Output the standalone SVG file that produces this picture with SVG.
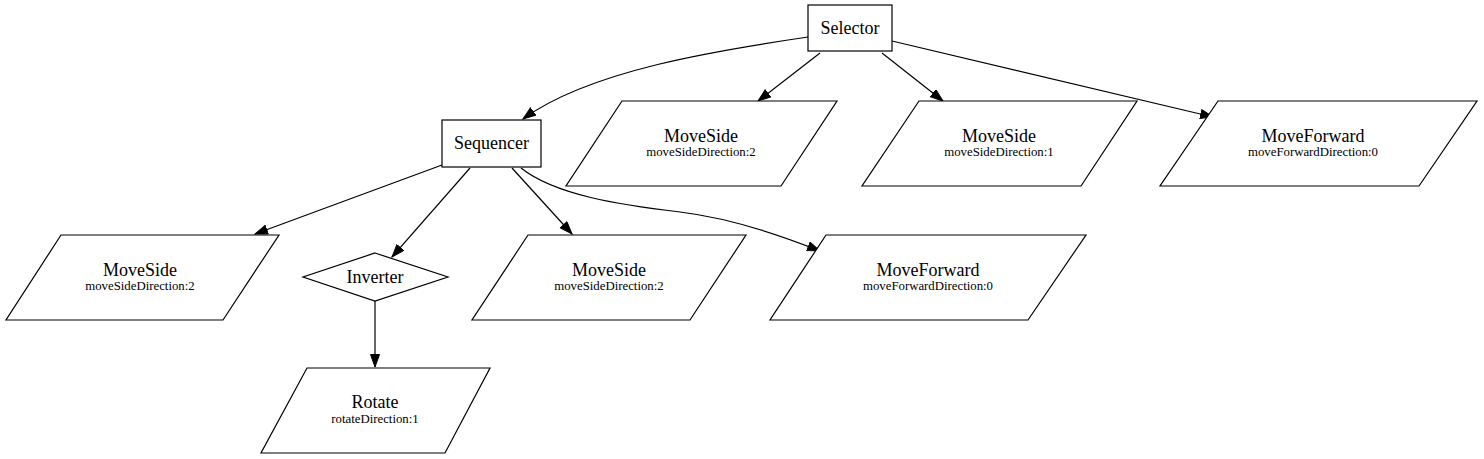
<svg xmlns="http://www.w3.org/2000/svg" width="1484" height="459" viewBox="0 0 1484 459">
<style>
.n{fill:#fff;stroke:#000;stroke-width:1.2}
.e{fill:none;stroke:#000;stroke-width:1.2;marker-end:url(#a)}
text{font-family:'Liberation Serif','Times New Roman',Times,serif;text-anchor:middle;fill:#000}
.t{font-size:18px}
.s{font-size:12.8px}
</style>
<defs>
<marker id="a" markerUnits="userSpaceOnUse" markerWidth="14" markerHeight="11" refX="13" refY="5" orient="auto">
<path d="M0.5,0.5 L13,5 L0.5,9.5 z" fill="#000" stroke="#000" stroke-width="1"/>
</marker>
</defs>
<rect width="1484" height="459" fill="#fff"/>
<g id="edges">
<path class="e" d="M808,37 C720,50 590,70 523,119"/>
<path class="e" d="M820,53 L758,101"/>
<path class="e" d="M882,53 L943,101"/>
<path class="e" d="M892,41 L1213,117"/>
<path class="e" d="M442,165 L255,234"/>
<path class="e" d="M470,168 L392,257"/>
<path class="e" d="M512,168 L572,234"/>
<path class="e" d="M521,168 C555,195 620,205 680,212 C730,218 780,235 820,251"/>
<path class="e" d="M375,301 L375,367"/>
</g>
<g id="selector">
<rect class="n" x="808" y="5" width="84" height="46"/>
<text class="t" x="850" y="34" font-family="Liberation Serif, serif">Selector</text>
</g>
<g id="sequencer">
<rect class="n" x="442" y="120" width="99" height="47"/>
<text class="t" x="491.5" y="149" font-family="Liberation Serif, serif">Sequencer</text>
</g>
<g id="moveside_top1">
<polygon class="n" points="622,101 837,101 781,186 566,186"/>
<text class="t" x="701" y="142" font-family="Liberation Serif, serif">MoveSide</text>
<text class="s" x="701" y="156" font-family="Liberation Serif, serif">moveSideDirection:2</text>
</g>
<g id="moveside_top2">
<polygon class="n" points="919,101 1137,101 1081,186 862,186"/>
<text class="t" x="999" y="142" font-family="Liberation Serif, serif">MoveSide</text>
<text class="s" x="999" y="156" font-family="Liberation Serif, serif">moveSideDirection:1</text>
</g>
<g id="moveforward_top">
<polygon class="n" points="1218,101 1477,101 1419,186 1160,186"/>
<text class="t" x="1313" y="142" font-family="Liberation Serif, serif">MoveForward</text>
<text class="s" x="1313" y="156" font-family="Liberation Serif, serif">moveForwardDirection:0</text>
</g>
<g id="moveside_left">
<polygon class="n" points="61,235 279,235 223,320 6,320"/>
<text class="t" x="140" y="276" font-family="Liberation Serif, serif">MoveSide</text>
<text class="s" x="140" y="290" font-family="Liberation Serif, serif">moveSideDirection:2</text>
</g>
<g id="inverter">
<polygon class="n" points="375,253 448,277 375,301 303,277"/>
<text class="t" x="375" y="283" font-family="Liberation Serif, serif">Inverter</text>
</g>
<g id="moveside_mid">
<polygon class="n" points="528,235 746,235 690,320 472,320"/>
<text class="t" x="609" y="276" font-family="Liberation Serif, serif">MoveSide</text>
<text class="s" x="609" y="290" font-family="Liberation Serif, serif">moveSideDirection:2</text>
</g>
<g id="moveforward_bottom">
<polygon class="n" points="826,235 1086,235 1028,320 770,320"/>
<text class="t" x="928" y="276" font-family="Liberation Serif, serif">MoveForward</text>
<text class="s" x="928" y="290" font-family="Liberation Serif, serif">moveForwardDirection:0</text>
</g>
<g id="rotate">
<polygon class="n" points="307,368 490,368 445,453 261,453"/>
<text class="t" x="375" y="408" font-family="Liberation Serif, serif">Rotate</text>
<text class="s" x="375" y="423" font-family="Liberation Serif, serif">rotateDirection:1</text>
</g>
</svg>
